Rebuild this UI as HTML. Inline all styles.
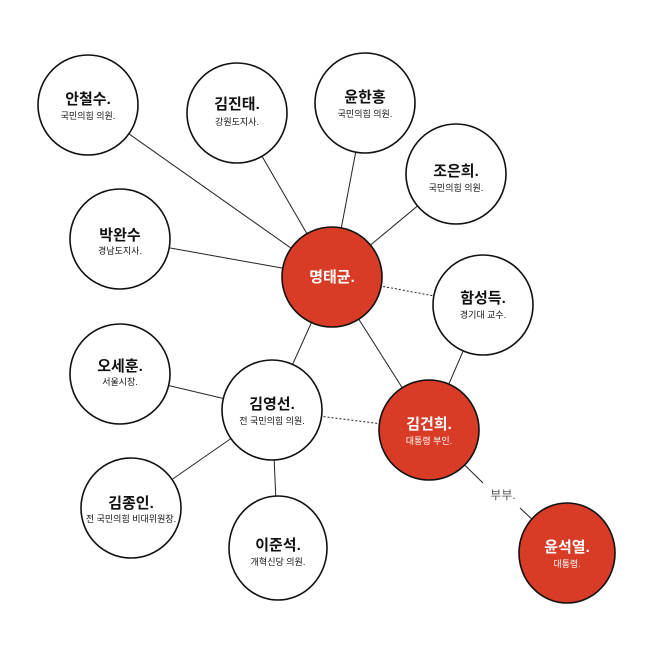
<!DOCTYPE html>
<html><head><meta charset="utf-8"><style>
html,body{margin:0;padding:0;background:#fff;}
svg{display:block;font-family:"Liberation Sans","Noto Sans CJK KR",sans-serif;}
.n{font-size:15px;font-weight:bold;text-anchor:middle;}
.s{font-size:9px;text-anchor:middle;}
</style></head><body>
<svg width="658" height="658" viewBox="0 0 658 658">
<g stroke="#222" stroke-width="1" fill="none">
<line x1="88" y1="105" x2="332" y2="277"/>
<line x1="237" y1="113" x2="332" y2="277"/>
<line x1="365" y1="103" x2="332" y2="277"/>
<line x1="456" y1="174" x2="332" y2="277"/>
<line x1="120" y1="239" x2="332" y2="277"/>
<line x1="332" y1="277" x2="272" y2="410"/>
<line x1="332" y1="277" x2="429" y2="430"/>
<line x1="483" y1="305" x2="429" y2="430"/>
<line x1="120" y1="374" x2="272" y2="410"/>
<line x1="131" y1="508" x2="272" y2="410"/>
<line x1="278" y1="548" x2="272" y2="410"/>
<line x1="429" y1="430" x2="483" y2="483"/>
<line x1="520" y1="508" x2="567" y2="552"/>
<line x1="332" y1="277" x2="483" y2="305" stroke-dasharray="2,2"/>
<line x1="272" y1="410" x2="429" y2="430" stroke-dasharray="2,2"/>
</g>
<g stroke="#111" stroke-width="1.6">
<circle cx="88" cy="105" r="50" fill="#fff"/>
<circle cx="237" cy="113" r="50" fill="#fff"/>
<circle cx="365" cy="103" r="50" fill="#fff"/>
<circle cx="456" cy="174" r="50" fill="#fff"/>
<circle cx="120" cy="239" r="50" fill="#fff"/>
<circle cx="332" cy="277" r="50" fill="#d83c26"/>
<circle cx="483" cy="305" r="50" fill="#fff"/>
<circle cx="120" cy="374" r="50" fill="#fff"/>
<circle cx="272" cy="410" r="50" fill="#fff"/>
<circle cx="429" cy="430" r="50" fill="#d83c26"/>
<circle cx="131" cy="508" r="50" fill="#fff"/>
<ellipse cx="278" cy="548" rx="49" ry="52" fill="#fff"/>
<ellipse cx="567" cy="553" rx="48" ry="50" fill="#d83c26"/>
</g>
<g fill="#111">
<text class="n" x="88" y="104">안철수.</text><text class="s" x="88" y="119">국민의힘 의원.</text>
<text class="n" x="237" y="109">김진태.</text><text class="s" x="237" y="125">강원도지사.</text>
<text class="n" x="365" y="102">윤한홍</text><text class="s" x="365" y="117">국민의힘 의원.</text>
<text class="n" x="456" y="176">조은희.</text><text class="s" x="456" y="191">국민의힘 의원.</text>
<text class="n" x="120" y="240">박완수</text><text class="s" x="120" y="254">경남도지사.</text>
<text class="n" x="483" y="303">함성득.</text><text class="s" x="483" y="318">경기대 교수.</text>
<text class="n" x="120" y="371">오세훈.</text><text class="s" x="120" y="385">서울시장.</text>
<text class="n" x="272" y="409">김영선.</text><text class="s" x="272" y="424">전 국민의힘 의원.</text>
<text class="n" x="131" y="508">김종인.</text><text class="s" x="131" y="522">전 국민의힘 비대위원장.</text>
<text class="n" x="278" y="550">이준석.</text><text class="s" x="278" y="565">개혁신당 의원.</text>
<text x="503" y="499" font-size="12" fill="#555" text-anchor="middle">부부.</text>
</g>
<g fill="#fff">
<text class="n" x="332" y="282">명태균.</text>
<text class="n" x="429" y="429">김건희.</text><text class="s" x="429" y="444">대통령 부인.</text>
<text class="n" x="567" y="552">윤석열.</text><text class="s" x="567" y="567">대통령.</text>
</g>
</svg>
</body></html>
